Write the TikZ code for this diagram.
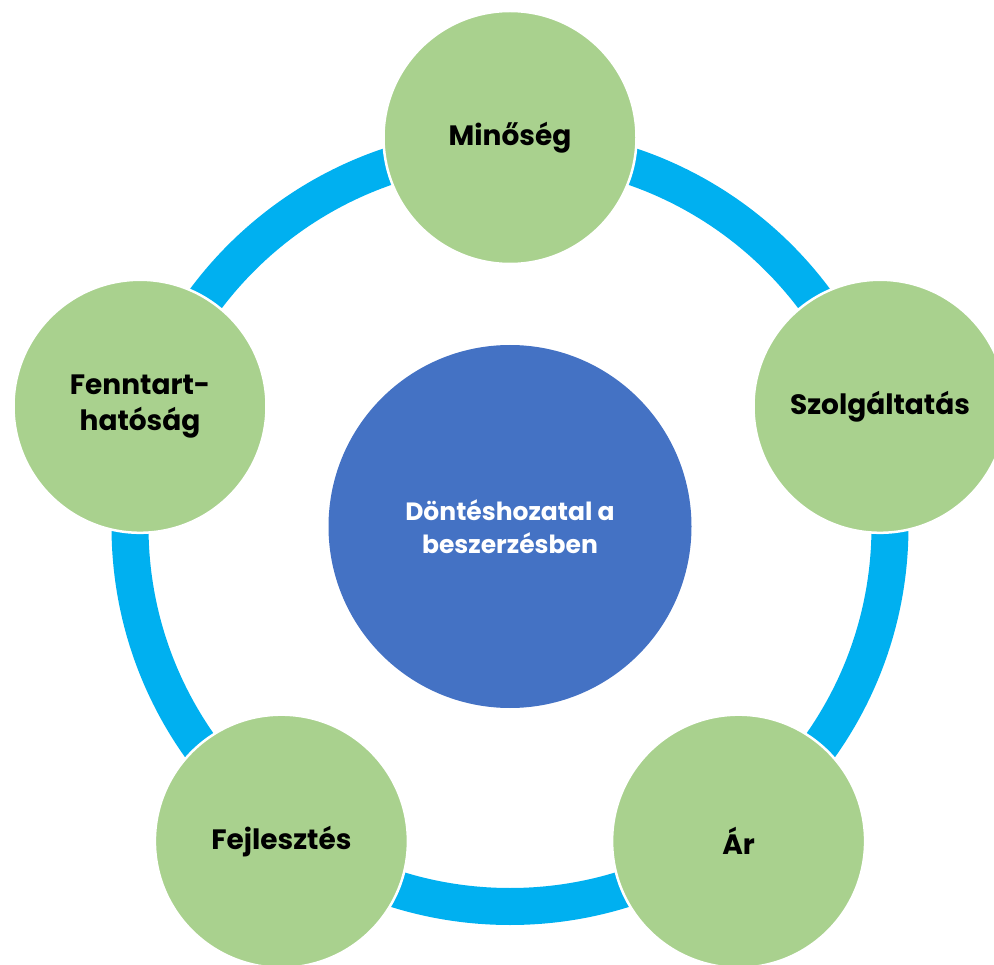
\documentclass[tikz,border=0pt]{standalone}
\usepackage{fontspec}
\setmainfont{Poppins}
\definecolor{ringblue}{HTML}{00B0F0}
\definecolor{leafgreen}{HTML}{A9D18E}
\definecolor{coreblue}{HTML}{4472C4}
\begin{document}
\begin{tikzpicture}[x=1pt,y=-1pt,
  outer/.style={circle, fill=leafgreen, draw=white, line width=2.5pt, minimum size=253pt, inner sep=0pt, align=center, font=\fontsize{28}{36}\selectfont\bfseries, text=black},
  core/.style={circle, fill=coreblue, minimum size=363pt, inner sep=0pt, align=center, font=\fontsize{25}{33}\selectfont\bfseries, text=white},
  ring/.style={draw=ringblue, line width=37pt}]
\useasboundingbox (0,0) rectangle (994,965);
\clip (0,0) rectangle (994,965);
\coordinate (c) at (510,526.5);
\draw[ring] (c) circle[radius=380];
\node[core] (core) at (c) {Döntéshozatal a\\beszerzésben};
\node[outer] (q) at (510,137.5) {Minőség};
\node[outer] (s) at (880,406.3) {Szolgáltatás};
\node[outer] (p) at (738.6,841.2) {Ár};
\node[outer] (d) at (281.4,841.2) {Fejlesztés};
\node[outer] (f) at (140,406.3) {Fenntart-\\hatóság};
\end{tikzpicture}
\end{document}
